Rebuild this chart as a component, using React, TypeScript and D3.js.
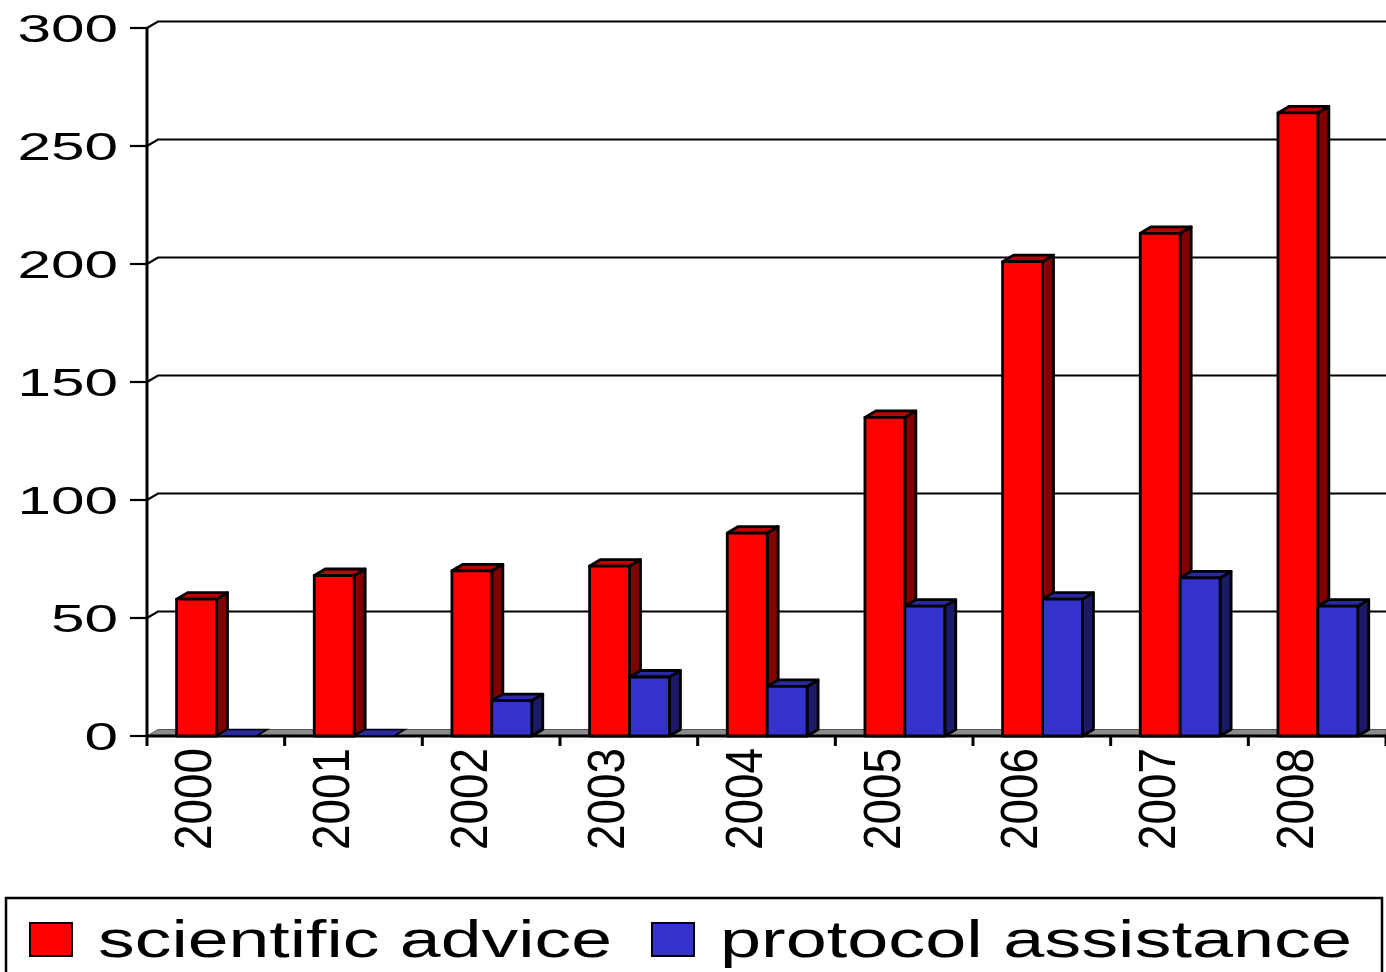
import * as d3 from "d3"
import * as React from "react"

const years = ["2000", "2001", "2002", "2003", "2004", "2005", "2006", "2007", "2008"]
const scientificAdvice = [58, 68, 70, 72, 86, 135, 201, 213, 264]
const protocolAssistance = [0, 0, 15, 25, 21, 55, 58, 67, 55]
const yTicks = [0, 50, 100, 150, 200, 250, 300]

const series = [
  { name: "scientific advice", values: scientificAdvice, front: "#ff0000", side: "#800000", top: "#c00000" },
  { name: "protocol assistance", values: protocolAssistance, front: "#3333cc", side: "#1a1a66", top: "#2a2aa0" },
]

const W = 1386
const H = 972
const DX = 11
const DY = -6.5
const FONT = "'Liberation Sans', Arial, sans-serif"

export default function App() {
  const x = d3.scaleBand().domain(years).range([147, 1386]).padding(0)
  const y = d3.scaleLinear().domain([0, 300]).range([736, 28])
  const bw = x.bandwidth()
  const barW = bw * 0.29
  const barOff = bw * 0.215
  const y0 = y(0)

  const poly = (pts: number[][]) => pts.map(p => p.join(",")).join(" ")

  const bars: React.ReactNode[] = []
  years.forEach((yr, i) => {
    series.forEach((s, j) => {
      const x0 = x(yr)! + barOff + j * barW
      const x1 = x0 + barW
      const yt = y(s.values[i])
      const k = `${yr}-${j}`
      if (s.values[i] === 0) {
        bars.push(
          <polygon key={k} points={poly([[x0, y0], [x1, y0], [x1 + DX, y0 + DY], [x0 + DX, y0 + DY]])}
            fill={s.top} stroke="#000" strokeWidth={1.5} />
        )
        return
      }
      bars.push(
        <g key={k} stroke="#000" strokeWidth={2.8} strokeLinejoin="round">
          <polygon points={poly([[x1, y0], [x1 + DX, y0 + DY], [x1 + DX, yt + DY], [x1, yt]])} fill={s.side} />
          <polygon points={poly([[x0, yt], [x1, yt], [x1 + DX, yt + DY], [x0 + DX, yt + DY]])} fill={s.top} />
          <rect x={x0} y={yt} width={barW} height={y0 - yt} fill={s.front} />
        </g>
      )
    })
  })

  return (
    <svg width={W} height={H} style={{ position: "absolute", left: 0, top: 0, background: "#fff" }}
      fontFamily={FONT}>
      {/* floor */}
      <polygon points={poly([[147, y0], [W, y0], [W, y0 + DY], [147 + DX, y0 + DY]])} fill="#8c8c8c" stroke="#555" strokeWidth={1} />
      {/* gridlines on back wall */}
      {yTicks.map(t => (
        <g key={t} stroke="#000" strokeWidth={2.2} fill="none">
          {t > 0 && <polyline points={poly([[147, y(t)], [147 + DX, y(t) + DY], [W, y(t) + DY]])} />}
          <line x1={130} x2={147} y1={y(t)} y2={y(t)} />
        </g>
      ))}
      {/* y axis */}
      <line x1={147} x2={147} y1={y(300)} y2={y0 + 10} stroke="#000" strokeWidth={3} />
      {/* x axis */}
      <line x1={147} x2={W} y1={y0} y2={y0} stroke="#000" strokeWidth={3} />
      {years.map(yr => (
        <line key={yr} x1={x(yr)! + bw} x2={x(yr)! + bw} y1={y0} y2={y0 + 10} stroke="#000" strokeWidth={3} />
      ))}
      {bars}
      {/* y tick labels */}
      {yTicks.map(t => (
        <text key={t} x={118} y={y(t)} dy="0.36em" textAnchor="end" fontSize={39}
          textLength={String(t).length * 33.5} lengthAdjust="spacingAndGlyphs">{t}</text>
      ))}
      {/* year labels */}
      {years.map(yr => (
        <text key={yr} transform={`translate(${x(yr)! + bw / 2 - 4.5},748) rotate(-90)`} textAnchor="end"
          fontSize={52} textLength={102} lengthAdjust="spacingAndGlyphs">{yr}</text>
      ))}
      {/* legend */}
      <rect x={6} y={898} width={1376} height={100} fill="none" stroke="#000" strokeWidth={2.5} />
      <rect x={30} y={923} width={42} height={33} fill={series[0].front} stroke="#000" strokeWidth={2} />
      <text x={98} y={957} fontSize={52} textLength={514} lengthAdjust="spacingAndGlyphs">{series[0].name}</text>
      <rect x={652} y={923} width={42} height={33} fill={series[1].front} stroke="#000" strokeWidth={2} />
      <text x={720} y={957} fontSize={52} textLength={632} lengthAdjust="spacingAndGlyphs">{series[1].name}</text>
    </svg>
  )
}
